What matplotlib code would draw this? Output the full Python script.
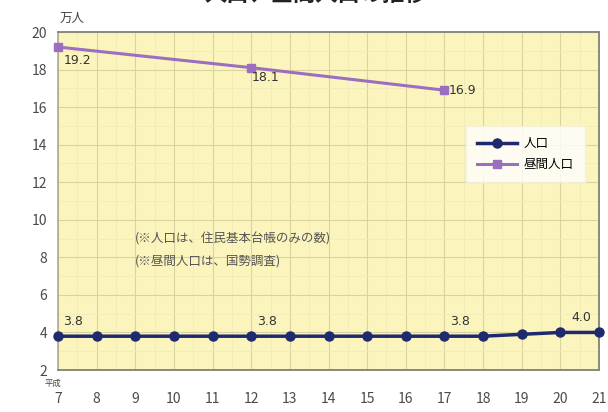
import matplotlib.pyplot as plt
import numpy as np

plt.rcParams['font.family'] = ['Noto Sans CJK JP', 'DejaVu Sans']

# 平成7年〜21年
years = [7, 8, 9, 10, 11, 12, 13, 14, 15, 16, 17, 18, 19, 20, 21]
population = [3.8, 3.8, 3.8, 3.8, 3.8, 3.8, 3.8, 3.8, 3.8, 3.8, 3.8, 3.8, 3.9, 4.0, 4.0]
day_years = [7, 12, 17]
day_population = [19.2, 18.1, 16.9]

pop_label_years = [7, 12, 17, 21]

fig = plt.figure(figsize=(6.08, 4.12), dpi=100)
ax = fig.add_axes([58 / 608, 1 - 370 / 412, (599 - 58) / 608, (370 - 32) / 412])
ax.set_facecolor('#fbf4bc')

ax.set_xlim(7, 21)
ax.set_ylim(2, 20)
ax.set_xticks(years)
ax.set_yticks(np.arange(2, 21, 2))
ax.set_xticks(np.arange(7, 21.01, 0.5), minor=True)
ax.set_yticks(np.arange(2, 20.01, 1), minor=True)
ax.grid(True, which='major', color='#d9d3a0', lw=0.8)
ax.grid(True, which='minor', color='#f1ebbb', lw=0.6)
ax.set_axisbelow(True)
ax.tick_params(which='both', length=0, labelsize=10, labelcolor='#4a4a4a')
ax.tick_params(axis='x', pad=16)
ax.tick_params(axis='y', pad=8)
for side in ['top', 'right', 'bottom']:
    ax.spines[side].set_color('#8a8a7a')
    ax.spines[side].set_linewidth(1.4)
ax.spines['left'].set_color('#b0aa90')
ax.spines['left'].set_linewidth(1.2)

ax.plot(years, population, color='#1f2a6e', lw=2.5, marker='o', ms=6.5,
        label='人口', clip_on=False, zorder=3)
ax.plot(day_years, day_population, color='#9b6fc0', lw=2.2, marker='s', ms=6,
        label='昼間人口', clip_on=False, zorder=3)

# 数値ラベル
for x, y in zip(years, population):
    if x in pop_label_years:
        dx = -0.45 if x == 21 else 0.4
        ax.text(x + dx, y + 0.45, f'{y:.1f}', fontsize=9, color='#333333',
                ha='center', va='bottom', family='DejaVu Sans')
ax.text(7.15, day_population[0] - 0.35, f'{day_population[0]:.1f}', fontsize=9,
        color='#333333', ha='left', va='top', family='DejaVu Sans')
ax.text(12.0, day_population[1] - 0.2, f'{day_population[1]:.1f}', fontsize=9,
        color='#333333', ha='left', va='top', family='DejaVu Sans')
ax.text(17.12, day_population[2], f'{day_population[2]:.1f}', fontsize=9,
        color='#333333', ha='left', va='center', family='DejaVu Sans')

ax.text(9.0, 9.0, '(※人口は、住民基本台帳のみの数)', fontsize=9,
        color='#555555', ha='left', va='center')
ax.text(9.0, 7.8, '(※昼間人口は、国勢調査)', fontsize=9,
        color='#555555', ha='left', va='center')

leg = ax.legend(loc='upper right', bbox_to_anchor=(0.985, 0.74), fontsize=9,
                frameon=True, fancybox=False, handlelength=3.2,
                borderpad=0.9, labelspacing=0.6, handletextpad=0.5)
leg.get_frame().set_facecolor('white')
leg.get_frame().set_edgecolor('#f4f0dc')

fig.text(60 / 608, 1 - 18 / 412, '万人', fontsize=9, color='#444444',
         ha='left', va='center')
fig.text(45 / 608, 1 - 383 / 412, '平成', fontsize=6, color='#444444',
         ha='left', va='center')
fig.text(0.52, 1.012, '人口、昼間人口の推移', fontsize=16, fontweight='bold',
         color='#222222', ha='center', va='center')

fig.savefig('out.png', dpi=100)
